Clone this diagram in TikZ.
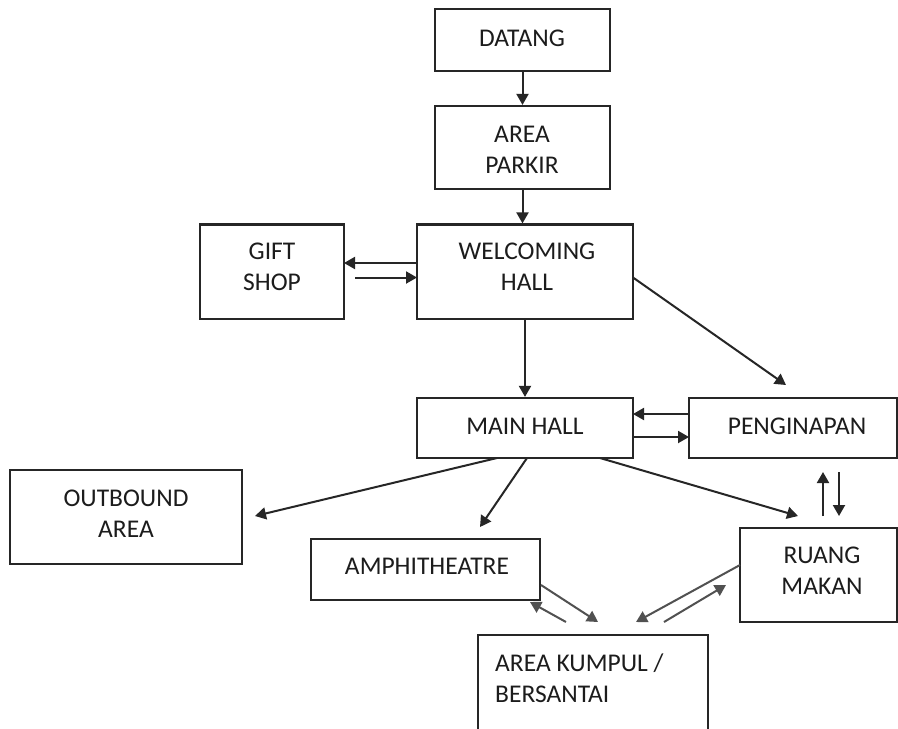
\documentclass[tikz,border=0pt]{standalone}
\usepackage{fontspec}
\setmainfont{Carlito}
\usetikzlibrary{arrows.meta}
\definecolor{ink}{HTML}{262626}
\definecolor{txt}{HTML}{1c1c1c}
\tikzset{
  box/.style={draw=ink, line width=2.2pt, rectangle, inner sep=0pt},
  lbl/.style={text=txt, font=\fontsize{25.5}{31}\selectfont, align=center, inner sep=0pt},
  arr/.style={draw=ink, line width=2pt, -{Triangle[length=11pt,width=12pt]}},
  garr/.style={draw=ink!80, line width=2pt, -{Triangle[length=11pt,width=12pt]}}
}
\begin{document}
\begin{tikzpicture}[x=1pt,y=-1pt]
\clip (0,0) rectangle (898,729);
\fill[white] (0,0) rectangle (898,729);
% boxes
\node[box, minimum width=175pt, minimum height=62pt] (dat) at (522.5,40) {};
\node[box, minimum width=175pt, minimum height=83pt] (park) at (522.5,147.5) {};
\node[box, minimum width=144pt, minimum height=94.5pt] (gift) at (272,271.75) {};
\node[box, minimum width=216pt, minimum height=94.5pt] (wel) at (525,271.75) {};
\node[box, minimum width=216pt, minimum height=60pt] (main) at (525,428) {};
\node[box, minimum width=208pt, minimum height=60pt] (peng) at (793,428) {};
\node[box, minimum width=232pt, minimum height=94pt] (out) at (126,517) {};
\node[box, minimum width=229pt, minimum height=61pt] (amph) at (425.5,569.5) {};
\node[box, minimum width=157pt, minimum height=94pt] (ruang) at (818.5,575) {};
\node[box, minimum width=230pt, minimum height=110pt] (kump) at (593,690) {};
% labels
\node[lbl] (tdat) at (522,38) {DATANG};
\node[lbl] (tpark) at (522,149.5) {AREA\\PARKIR};
\node[lbl] (tgift) at (272,266.5) {GIFT\\SHOP};
\node[lbl] (twel) at (527,266.5) {WELCOMING\\HALL};
\node[lbl] (tmain) at (525,426) {MAIN HALL};
\node[lbl] (tpeng) at (797,426) {PENGINAPAN};
\node[lbl] (tout) at (126,514) {OUTBOUND\\AREA};
\node[lbl] (tamph) at (427,566) {AMPHITHEATRE};
\node[lbl] (truang) at (822,570.5) {RUANG\\MAKAN};
\node[lbl, align=left, anchor=west] (tkump) at (495,678.5) {AREA KUMPUL /\\BERSANTAI};
% arrow end points
\coordinate (gw1) at (417,263); \coordinate (gw2) at (344,263);
\coordinate (gw3) at (355,277.5); \coordinate (gw4) at (417,277.5);
\coordinate (wp1) at (633,277.5); \coordinate (wp2) at (786,385);
\coordinate (mp1) at (689,414); \coordinate (mp2) at (633,414);
\coordinate (mp3) at (633,437); \coordinate (mp4) at (689,437);
\coordinate (pr1) at (823,516); \coordinate (pr2) at (823,472);
\coordinate (pr3) at (839,472); \coordinate (pr4) at (839,516);
\coordinate (mo1) at (497,458); \coordinate (mo2) at (255,516);
\coordinate (ma1) at (527,458); \coordinate (ma2) at (480,527);
\coordinate (mr1) at (600,458); \coordinate (mr2) at (798,516);
\coordinate (ak1) at (541,585); \coordinate (ak2) at (598,622);
\coordinate (ka1) at (566,622); \coordinate (ka2) at (530,602);
\coordinate (rk1) at (740,565); \coordinate (rk2) at (636,622);
\coordinate (kr1) at (664,622); \coordinate (kr2) at (726,585);
% connectors
\draw[arr] (dat.south) -- (park.north);
\draw[arr] (park.south) -- (park.south |- wel.north);
\draw[arr] (gw1) -- (gw2);
\draw[arr] (gw3) -- (gw4);
\draw[arr] (wel.south) -- (main.north);
\draw[arr] (wp1) -- (wp2);
\draw[arr] (mp1) -- (mp2);
\draw[arr] (mp3) -- (mp4);
\draw[arr] (pr1) -- (pr2);
\draw[arr] (pr3) -- (pr4);
\draw[arr] (mo1) -- (mo2);
\draw[arr] (ma1) -- (ma2);
\draw[arr] (mr1) -- (mr2);
\draw[garr] (ak1) -- (ak2);
\draw[garr] (ka1) -- (ka2);
\draw[garr] (rk1) -- (rk2);
\draw[garr] (kr1) -- (kr2);
\end{tikzpicture}
\end{document}
